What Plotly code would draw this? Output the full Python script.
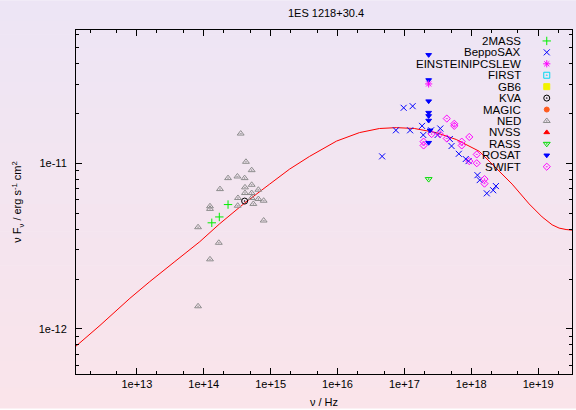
import plotly.graph_objects as go

# ---------------- data ----------------
twomass_nu = [1.32e14, 1.71e14, 2.31e14]
twomass_f = [4.37e-12, 4.74e-12, 5.63e-12]

kva_nu = [4.09e14]
kva_f = [5.91e-12]

ned_nu = [3.57e14, 4.28e14, 5.21e14, 2.31e14, 3.19e14, 4.09e14, 5.21e14, 1.75e14,
          4.14e14, 4.14e14, 5.21e14, 6.56e14, 3.25e14, 5.21e14, 6.56e14, 7.87e14,
          5.52e14, 3.22e14, 1.24e14, 1.24e14, 7.87e14, 8.23e13, 1.68e14, 1.24e14, 8.23e13]
ned_f = [1.51e-11, 1.02e-11, 9.08e-12, 8.13e-12, 8.32e-12, 8.13e-12, 7.41e-12, 6.98e-12,
         7.15e-12, 6.61e-12, 6.61e-12, 6.92e-12, 6.17e-12, 6.17e-12, 6.08e-12, 5.94e-12,
         5.68e-12, 5.54e-12, 5.50e-12, 5.30e-12, 4.51e-12, 4.11e-12, 3.31e-12, 2.63e-12, 1.37e-12]

rosat_nu = [2.31e17, 2.31e17, 2.31e17, 2.31e17, 2.31e17, 2.31e17, 2.42e17, 2.31e17]
rosat_f = [4.51e-11, 3.18e-11, 2.37e-11, 2.02e-11, 1.93e-11, 1.81e-11, 1.58e-11, 1.33e-11]

einstein_nu = [2.31e17]
einstein_f = [3.01e-11]

rass_nu = [2.31e17]
rass_f = [8.02e-12]

beppo_nu = [4.65e16, 7.48e16, 9.77e16, 1.33e17, 1.22e17, 1.84e17, 1.92e17, 2.51e17,
            3.45e17, 3.14e17, 4.79e17, 5.08e17, 6.52e17, 8.28e17, 9.12e17, 1.24e18,
            1.34e18, 1.71e18, 2.13e18, 2.34e18]
beppo_f = [1.10e-11, 1.58e-11, 2.16e-11, 2.21e-11, 1.58e-11, 1.68e-11, 1.48e-11, 1.58e-11,
           1.62e-11, 1.48e-11, 1.40e-11, 1.27e-11, 1.14e-11, 1.06e-11, 1.03e-11, 8.47e-12,
           7.91e-12, 6.58e-12, 6.87e-12, 7.28e-12]

swift_nu = [4.31e17, 5.58e17, 5.58e17, 2.56e17, 3.39e17, 1.94e17, 1.94e17, 4.31e17,
            9.35e17, 7.22e17, 7.22e17, 1.21e18, 1.21e18, 9.35e17, 1.58e18, 1.58e18]
swift_f = [1.86e-11, 1.73e-11, 1.68e-11, 1.50e-11, 1.50e-11, 1.35e-11, 1.28e-11, 1.41e-11,
           1.44e-11, 1.35e-11, 1.28e-11, 1.13e-11, 1.00e-11, 1.03e-11, 8.02e-12, 7.53e-12]

model_nu = [1.23e12, 2.81e12, 7.87e12, 1.56e13, 3.70e13, 8.73e13, 1.73e14, 4.09e14,
            9.68e14, 1.92e15, 3.83e15, 9.68e15, 2.13e16, 4.24e16, 7.60e16, 1.41e17,
            3.01e17, 5.98e17, 1.32e18, 2.62e18, 4.09e18, 7.35e18, 1.15e19, 1.62e19,
            2.06e19, 2.62e19, 3.57e19]
model_f = [7.87e-13, 1.05e-12, 1.53e-12, 1.93e-12, 2.55e-12, 3.36e-12, 4.31e-12, 5.75e-12,
           7.48e-12, 9.21e-12, 1.10e-11, 1.36e-11, 1.53e-11, 1.62e-11, 1.64e-11, 1.62e-11,
           1.53e-11, 1.39e-11, 1.18e-11, 8.95e-12, 7.48e-12, 5.68e-12, 4.74e-12, 4.25e-12,
           4.06e-12, 3.98e-12, 3.93e-12]

x_tick_vals = [1e13, 1e14, 1e15, 1e16, 1e17, 1e18, 1e19]
x_tick_text = ["1e+13", "1e+14", "1e+15", "1e+16", "1e+17", "1e+18", "1e+19"]
y_tick_vals = [1e-12, 1e-11]
y_tick_text = ["1e-12", "1e-11"]

legend_names = ["2MASS", "BeppoSAX", "EINSTEINIPCSLEW", "FIRST", "GB6", "KVA",
                "MAGIC", "NED", "NVSS", "RASS", "ROSAT", "SWIFT"]

# ---------------- styles ----------------
W, H = 576, 410
ML, MR, MT, MB = 76, 3, 30, 34
PW, PH = W - ML - MR, H - MT - MB
FONT = "Liberation Sans, Arial"

styles = {
    "2MASS": dict(symbol="cross-thin-open", color="#00ee00", size=6),
    "BeppoSAX": dict(symbol="x-thin-open", color="#0000ff", size=6),
    "EINSTEINIPCSLEW": dict(symbol="asterisk-open", color="#ff00ff", size=6),
    "FIRST": dict(symbol="square-open-dot", color="#00d8f0", size=6),
    "GB6": dict(symbol="square", color="#f2f200", size=6),
    "KVA": dict(symbol="circle-open-dot", color="#000000", size=6),
    "MAGIC": dict(symbol="circle", color="#ff5a1e", size=5),
    "NED": dict(symbol="triangle-up-open-dot", color="#8c8c8c", size=6),
    "NVSS": dict(symbol="triangle-up", color="#ff0000", size=5),
    "RASS": dict(symbol="triangle-down-open-dot", color="#00dd00", size=6),
    "ROSAT": dict(symbol="triangle-down", color="#0000ff", size=5),
    "SWIFT": dict(symbol="diamond-open-dot", color="#ff00ff", size=5.5),
}


def mk(name):
    s = styles[name]
    return dict(symbol=s["symbol"], color=s["color"], size=s["size"],
                line=dict(color=s["color"], width=1))


fig = go.Figure()

fig.add_trace(go.Scatter(x=model_nu, y=model_f, mode="lines",
                         line=dict(color="#ff0000", width=1), showlegend=False,
                         hoverinfo="skip"))

series = [
    ("NED", ned_nu, ned_f),
    ("2MASS", twomass_nu, twomass_f),
    ("KVA", kva_nu, kva_f),
    ("BeppoSAX", beppo_nu, beppo_f),
    ("SWIFT", swift_nu, swift_f),
    ("RASS", rass_nu, rass_f),
    ("ROSAT", rosat_nu, rosat_f),
    ("EINSTEINIPCSLEW", einstein_nu, einstein_f),
]
for name, xs, ys in series:
    fig.add_trace(go.Scatter(x=xs, y=ys, mode="markers", name=name,
                             marker=mk(name), showlegend=False))

# custom legend (text right-aligned, symbol to the right)
row0, rowstep = 41.0, 11.5
text_right_px, sym_px = 524.0, 547.7
annotations = []
for i, name in enumerate(legend_names):
    py = row0 + i * rowstep
    yp = (H - MB - py) / PH
    annotations.append(dict(text=name, xref="paper", yref="paper",
                            x=(text_right_px - ML) / PW, y=yp,
                            xanchor="right", yanchor="middle", showarrow=False,
                            font=dict(family=FONT, size=11.5, color="black")))
    fig.add_trace(go.Scatter(x=[(sym_px - ML) / PW], y=[yp], mode="markers",
                             marker=mk(name), xaxis="x2", yaxis="y2",
                             showlegend=False, cliponaxis=False, hoverinfo="skip"))

# background gradient (lavender top -> pink bottom)
top_c = (237, 229, 245)
bot_c = (250, 228, 234)
N = 60
y_top = 1 + MT / PH
y_bot = -MB / PH
shapes = []
for i in range(N):
    t = i / (N - 1)
    c = tuple(round(top_c[k] + (bot_c[k] - top_c[k]) * t) for k in range(3))
    y1 = y_top - (y_top - y_bot) * i / N
    y0 = y_top - (y_top - y_bot) * (i + 1) / N - 0.002
    shapes.append(dict(type="rect", xref="paper", yref="paper",
                       x0=-ML / PW - 0.01, x1=1 + MR / PW + 0.01, y0=y0, y1=y1,
                       fillcolor="rgb(%d,%d,%d)" % c, line=dict(width=0),
                       layer="below"))

x_minor = [m * 10.0 ** e for e in range(12, 20) for m in (2, 5)]
y_minor = [m * 10.0 ** e for e in range(-13, -9) for m in range(2, 10)]

axis_common = dict(showline=True, linecolor="black", linewidth=1, mirror="ticks",
                   ticks="inside", ticklen=6, tickcolor="black", tickwidth=1,
                   showgrid=False, zeroline=False,
                   tickfont=dict(family=FONT, size=11, color="black"))

fig.update_layout(
    width=W, height=H, autosize=False,
    margin=dict(l=ML, r=MR, t=MT, b=MB, pad=0),
    paper_bgcolor="rgba(0,0,0,0)", plot_bgcolor="rgba(0,0,0,0)",
    showlegend=False,
    title=dict(text="1ES 1218+30.4", x=326 / W, xanchor="center",
               y=1 - 13 / H, yanchor="middle",
               font=dict(family=FONT, size=11, color="black")),
    xaxis=dict(type="log", range=[12.09, 19.507], tickmode="array",
               tickvals=x_tick_vals, ticktext=x_tick_text,
               minor=dict(ticks="inside", ticklen=3, tickcolor="black",
                          tickmode="array", tickvals=x_minor, showgrid=False),
               title=dict(text="ν / Hz", standoff=9,
                          font=dict(family=FONT, size=11, color="black")),
               **axis_common),
    yaxis=dict(type="log", range=[-12.272, -10.196], tickmode="array",
               tickvals=y_tick_vals, ticktext=y_tick_text,
               minor=dict(ticks="inside", ticklen=3, tickcolor="black",
                          tickmode="array", tickvals=y_minor, showgrid=False),
               ticklabelstandoff=6,
               title=dict(text="ν F<sub>ν</sub> / erg s<sup>-1</sup> cm<sup>2</sup>",
                          standoff=14,
                          font=dict(family=FONT, size=11, color="black")),
               **axis_common),
    xaxis2=dict(overlaying="x", range=[0, 1], visible=False, fixedrange=True),
    yaxis2=dict(overlaying="y", range=[0, 1], visible=False, fixedrange=True),
    shapes=shapes,
    annotations=annotations,
)

fig.write_html("out.html", config={"displayModeBar": False},
               post_script="document.body.style.margin='0';")
